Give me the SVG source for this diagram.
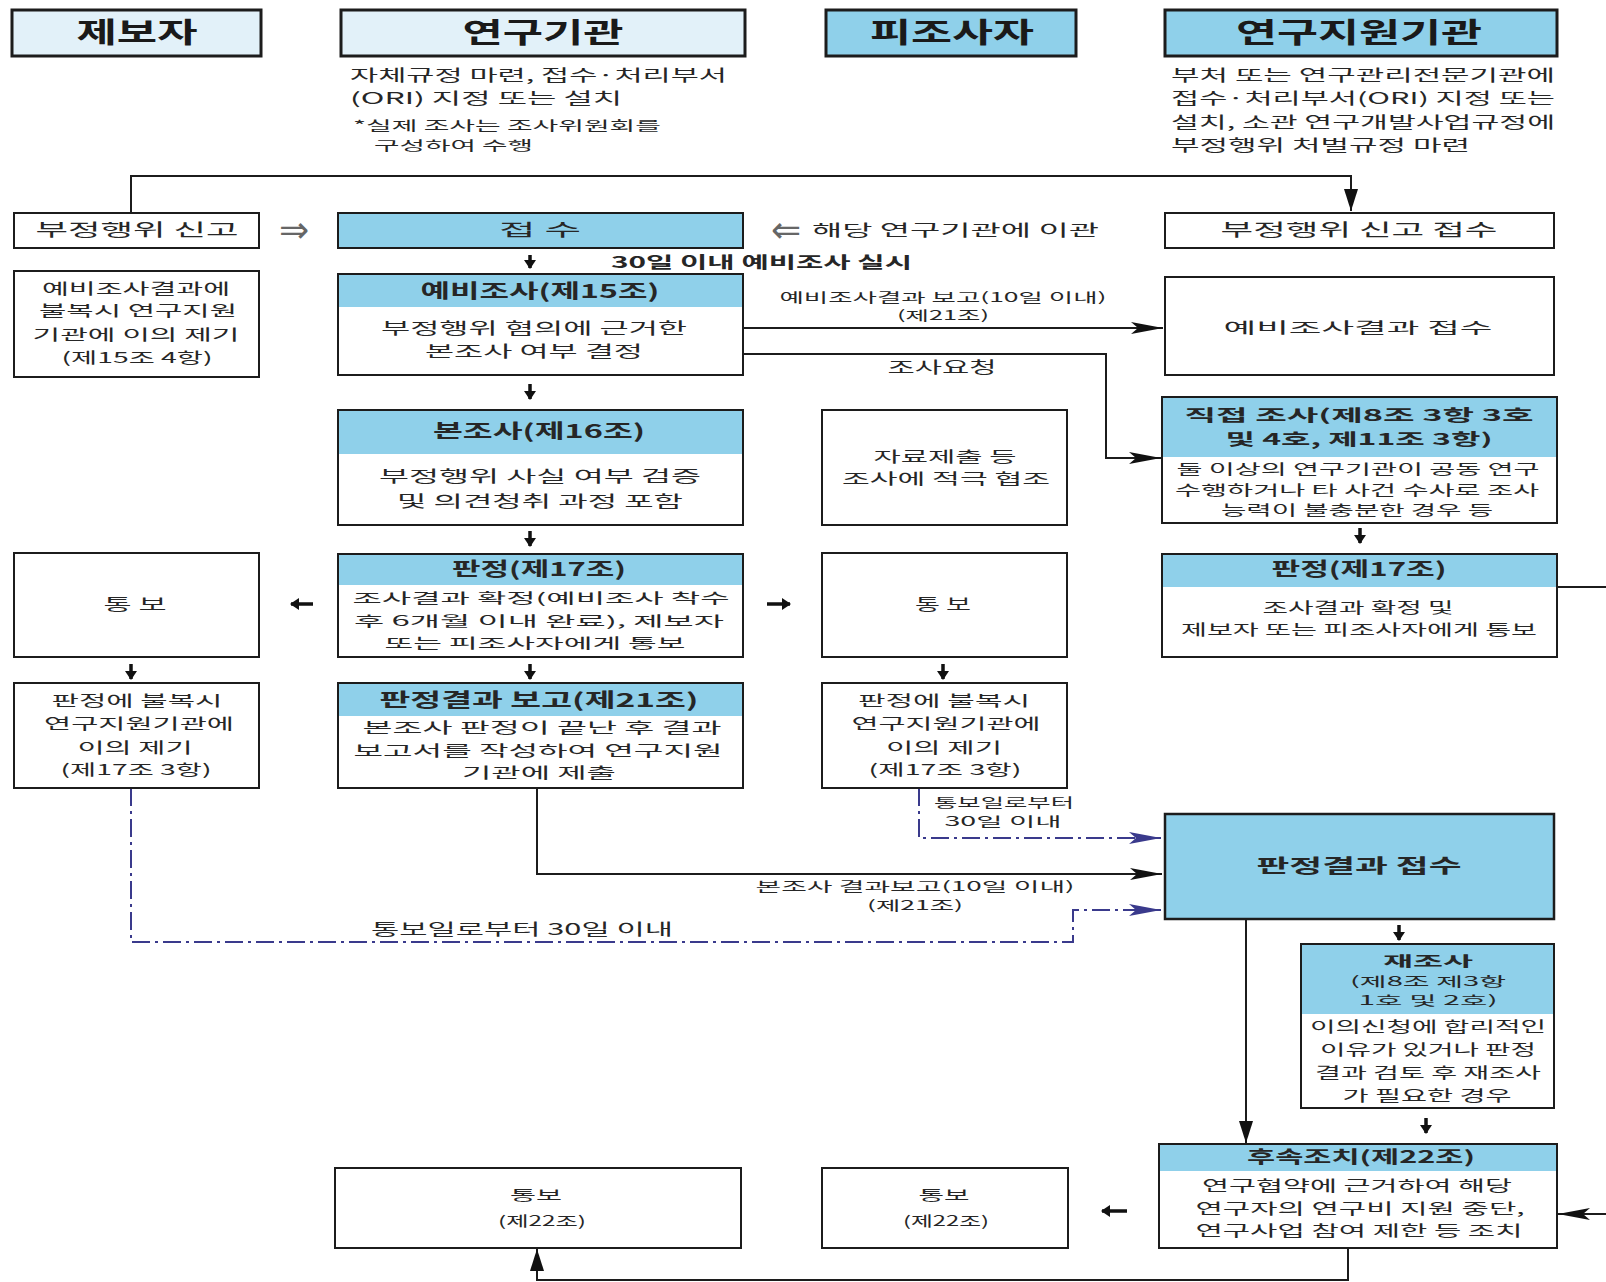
<svg xmlns="http://www.w3.org/2000/svg" width="1606" height="1282" viewBox="0 0 1606 1282">
<style>
.bg{fill:#ffffff}
.box{fill:#ffffff;stroke:#1c1c1c;stroke-width:2}
.ol{fill:none;stroke:#1c1c1c;stroke-width:2}
.band{fill:#8fd0ea}
.hdrP{fill:#e2f1f9;stroke:#1c1c1c;stroke-width:3}
.hdrB{fill:#8fd0ea;stroke:#1c1c1c;stroke-width:3}
.t{font-family:"Noto Sans CJK KR","Liberation Sans",sans-serif;font-size:15px;fill:#262626;text-anchor:middle}
.s{text-anchor:start}
.h{font-size:28px;font-weight:700;fill:#1a1a1a}
.b{font-size:19px;font-weight:700;fill:#262626}
.f13{font-size:13px}
.f14{font-size:14px}
.f16{font-size:16px}
.f17{font-size:17px}
.lb{font-weight:700}
.sym{font-family:"DejaVu Sans",sans-serif;font-size:36px;fill:#666;text-anchor:middle}
.ln{fill:none;stroke:#1c1c1c;stroke-width:2}
.dl{fill:none;stroke:#3a3a8c;stroke-width:2;stroke-dasharray:18 5 3 5}
.sa{fill:none;stroke:#111;stroke-width:3.5}
</style>
<defs>
<marker id="ah" markerUnits="userSpaceOnUse" markerWidth="34" markerHeight="14" refX="32" refY="7" orient="auto">
<path d="M0,1 L32,7 L0,13 L7,7 Z" fill="#111"/>
</marker>
<marker id="ahb" markerUnits="userSpaceOnUse" markerWidth="34" markerHeight="14" refX="32" refY="7" orient="auto">
<path d="M0,1 L32,7 L0,13 L7,7 Z" fill="#3a3a8c"/>
</marker>
<marker id="ahs" markerUnits="userSpaceOnUse" markerWidth="24" markerHeight="16" refX="22" refY="8" orient="auto">
<path d="M0,1 L22,8 L0,15 Z" fill="#111"/>
</marker>
<marker id="sh" markerUnits="userSpaceOnUse" markerWidth="10" markerHeight="12" refX="8" refY="6" orient="auto">
<path d="M0,0 L9,6 L0,12 Z" fill="#111"/>
</marker>
</defs>
<rect class="bg" x="0" y="0" width="1606" height="1282"/>

<g id="header-jebo">
<rect class="hdrP" x="12" y="10" width="249" height="46"/>
<text class="t h" x="137" y="43" textLength="121" lengthAdjust="spacingAndGlyphs">제보자</text>
</g>
<g id="header-yeongu">
<rect class="hdrP" x="341" y="10" width="404" height="46"/>
<text class="t h" x="543" y="43" textLength="161" lengthAdjust="spacingAndGlyphs">연구기관</text>
<text class="t s f16" x="350" y="81" textLength="377" lengthAdjust="spacingAndGlyphs">자체규정 마련, 접수·처리부서</text>
<text class="t s f16" x="350" y="104" textLength="272" lengthAdjust="spacingAndGlyphs">(ORI) 지정 또는 설치</text>
<text class="t s f13" x="353" y="130" textLength="308" lengthAdjust="spacingAndGlyphs">*실제 조사는 조사위원회를</text>
<text class="t s f13" x="374" y="150" textLength="159" lengthAdjust="spacingAndGlyphs">구성하여 수행</text>
</g>
<g id="header-pijosa">
<rect class="hdrB" x="826" y="10" width="250" height="46"/>
<text class="t h" x="952" y="43" textLength="164" lengthAdjust="spacingAndGlyphs">피조사자</text>
</g>
<g id="header-jiwon">
<rect class="hdrB" x="1165" y="10" width="392" height="46"/>
<text class="t h" x="1359" y="43" textLength="246" lengthAdjust="spacingAndGlyphs">연구지원기관</text>
<text class="t s f16" x="1171" y="81" textLength="384" lengthAdjust="spacingAndGlyphs">부처 또는 연구관리전문기관에</text>
<text class="t s f16" x="1171" y="104" textLength="384" lengthAdjust="spacingAndGlyphs">접수·처리부서(ORI) 지정 또는</text>
<text class="t s f16" x="1171" y="128" textLength="384" lengthAdjust="spacingAndGlyphs">설치, 소관 연구개발사업규정에</text>
<text class="t s f16" x="1171" y="151" textLength="299" lengthAdjust="spacingAndGlyphs">부정행위 처벌규정 마련</text>
</g>

<g id="connectors">
<polyline class="ln" points="131,213 131,176 1351,176 1351,211" marker-end="url(#ahs)"/>
<line class="ln" x1="743" y1="328" x2="1163" y2="328" marker-end="url(#ah)"/>
<polyline class="ln" points="743,354 1106,354 1106,458 1161,458" marker-end="url(#ah)"/>
<line class="ln" x1="1557" y1="587" x2="1606" y2="587"/>
<line class="ln" x1="1606" y1="1214" x2="1558" y2="1214" marker-end="url(#ah)"/>
<polyline class="dl" points="919,788 919,838 1161,838" marker-end="url(#ahb)"/>
<polyline class="ln" points="537,788 537,874 1162,874" marker-end="url(#ah)"/>
<polyline class="dl" points="131,788 131,942 1073,942 1073,910 1161,910" marker-end="url(#ahb)"/>
<line class="ln" x1="1246" y1="919" x2="1246" y2="1143" marker-end="url(#ahs)"/>
<polyline class="ln" points="1348,1248 1348,1280 537,1280 537,1249" marker-end="url(#ahs)"/>
<line class="sa" x1="530" y1="255" x2="530" y2="268" marker-end="url(#sh)"/>
<line class="sa" x1="530" y1="384" x2="530" y2="399" marker-end="url(#sh)"/>
<line class="sa" x1="530" y1="531" x2="530" y2="546" marker-end="url(#sh)"/>
<line class="sa" x1="1360" y1="528" x2="1360" y2="543" marker-end="url(#sh)"/>
<line class="sa" x1="131" y1="664" x2="131" y2="679" marker-end="url(#sh)"/>
<line class="sa" x1="530" y1="664" x2="530" y2="679" marker-end="url(#sh)"/>
<line class="sa" x1="943" y1="664" x2="943" y2="679" marker-end="url(#sh)"/>
<line class="sa" x1="1399" y1="925" x2="1399" y2="940" marker-end="url(#sh)"/>
<line class="sa" x1="1426" y1="1118" x2="1426" y2="1133" marker-end="url(#sh)"/>
<line class="sa" x1="313" y1="604" x2="291" y2="604" marker-end="url(#sh)"/>
<line class="sa" x1="767" y1="604" x2="790" y2="604" marker-end="url(#sh)"/>
<line class="sa" x1="1127" y1="1211" x2="1102" y2="1211" marker-end="url(#sh)"/>
<text class="sym" x="294" y="242">⇒</text>
<text class="sym" x="786" y="242">⇐</text>
<text class="t s f16" x="812" y="236" textLength="287" lengthAdjust="spacingAndGlyphs">해당 연구기관에 이관</text>
<text class="t s f16 lb" x="611" y="268" textLength="301" lengthAdjust="spacingAndGlyphs">30일 이내 예비조사 실시</text>
<text class="t f13" x="943" y="302" textLength="327" lengthAdjust="spacingAndGlyphs">예비조사결과 보고(10일 이내)</text>
<text class="t f13" x="943" y="320" textLength="92" lengthAdjust="spacingAndGlyphs">(제21조)</text>
<text class="t f16" x="942" y="373" textLength="109" lengthAdjust="spacingAndGlyphs">조사요청</text>
<text class="t f13" x="1004" y="807" textLength="140" lengthAdjust="spacingAndGlyphs">통보일로부터</text>
<text class="t f13" x="1003" y="826" textLength="117" lengthAdjust="spacingAndGlyphs">30일 이내</text>
<text class="t f13" x="915" y="891" textLength="319" lengthAdjust="spacingAndGlyphs">본조사 결과보고(10일 이내)</text>
<text class="t f13" x="915" y="910" textLength="96" lengthAdjust="spacingAndGlyphs">(제21조)</text>
<text class="t f16" x="522" y="935" textLength="302" lengthAdjust="spacingAndGlyphs">통보일로부터 30일 이내</text>
</g>

<g id="node-singo">
<rect class="box" x="14" y="213" width="245" height="35"/>
<text class="t f17" x="137" y="236" textLength="203" lengthAdjust="spacingAndGlyphs">부정행위 신고</text>
</g>
<g id="node-jeopsu">
<rect class="hdrB" style="stroke-width:2" x="338" y="213" width="405" height="35"/>
<text class="t f17" x="540" y="236" textLength="82" lengthAdjust="spacingAndGlyphs">접 수</text>
</g>
<g id="node-singo-jeopsu">
<rect class="box" x="1165" y="213" width="389" height="35"/>
<text class="t f17" x="1359" y="236" textLength="277" lengthAdjust="spacingAndGlyphs">부정행위 신고 접수</text>
</g>

<g id="node-ieui1">
<rect class="box" x="14" y="271" width="245" height="106"/>
<text class="t" x="136" y="294" textLength="188" lengthAdjust="spacingAndGlyphs">예비조사결과에</text>
<text class="t" x="138" y="316" textLength="198" lengthAdjust="spacingAndGlyphs">불복시 연구지원</text>
<text class="t" x="136" y="340" textLength="207" lengthAdjust="spacingAndGlyphs">기관에 이의 제기</text>
<text class="t" x="137" y="363" textLength="151" lengthAdjust="spacingAndGlyphs">(제15조 4항)</text>
</g>
<g id="node-yebi">
<rect class="box" x="338" y="274" width="405" height="101"/>
<rect class="band" x="339" y="275" width="403" height="32"/>
<rect class="ol" x="338" y="274" width="405" height="101"/>
<text class="t b" x="540" y="298" textLength="239" lengthAdjust="spacingAndGlyphs">예비조사(제15조)</text>
<text class="t f16" x="534" y="334" textLength="306" lengthAdjust="spacingAndGlyphs">부정행위 혐의에 근거한</text>
<text class="t f16" x="534" y="357" textLength="218" lengthAdjust="spacingAndGlyphs">본조사 여부 결정</text>
</g>
<g id="node-yebi-jeopsu">
<rect class="box" x="1165" y="277" width="389" height="98"/>
<text class="t" x="1358" y="333" font-size="19" textLength="269" lengthAdjust="spacingAndGlyphs">예비조사결과 접수</text>
</g>

<g id="node-bonjosa">
<rect class="box" x="338" y="410" width="405" height="115"/>
<rect class="band" x="339" y="411" width="403" height="43"/>
<rect class="ol" x="338" y="410" width="405" height="115"/>
<text class="t b" x="539" y="438" textLength="212" lengthAdjust="spacingAndGlyphs">본조사(제16조)</text>
<text class="t f16" x="540" y="482" textLength="322" lengthAdjust="spacingAndGlyphs">부정행위 사실 여부 검증</text>
<text class="t f16" x="540" y="507" textLength="286" lengthAdjust="spacingAndGlyphs">및 의견청취 과정 포함</text>
</g>
<g id="node-jaryo">
<rect class="box" x="822" y="410" width="245" height="115"/>
<text class="t" x="945" y="462" textLength="143" lengthAdjust="spacingAndGlyphs">자료제출 등</text>
<text class="t" x="946" y="484" textLength="208" lengthAdjust="spacingAndGlyphs">조사에 적극 협조</text>
</g>
<g id="node-jikjeop">
<rect class="box" x="1162" y="397" width="395" height="126"/>
<rect class="band" x="1163" y="398" width="393" height="59"/>
<rect class="ol" x="1162" y="397" width="395" height="126"/>
<text class="t b f16" x="1359" y="421" textLength="349" lengthAdjust="spacingAndGlyphs">직접 조사(제8조 3항 3호</text>
<text class="t b f16" x="1359" y="445" textLength="267" lengthAdjust="spacingAndGlyphs">및 4호, 제11조 3항)</text>
<text class="t f14" x="1358" y="474" textLength="363" lengthAdjust="spacingAndGlyphs">둘 이상의 연구기관이 공동 연구</text>
<text class="t f14" x="1357" y="495" textLength="364" lengthAdjust="spacingAndGlyphs">수행하거나 타 사건 수사로 조사</text>
<text class="t f14" x="1357" y="515" textLength="272" lengthAdjust="spacingAndGlyphs">능력이 불충분한 경우 등</text>
</g>

<g id="node-tongbo-l">
<rect class="box" x="14" y="553" width="245" height="104"/>
<text class="t f16" x="135" y="610" textLength="63" lengthAdjust="spacingAndGlyphs">통 보</text>
</g>
<g id="node-panjeong">
<rect class="box" x="338" y="554" width="405" height="103"/>
<rect class="band" x="339" y="555" width="403" height="30"/>
<rect class="ol" x="338" y="554" width="405" height="103"/>
<text class="t b" x="539" y="576" textLength="174" lengthAdjust="spacingAndGlyphs">판정(제17조)</text>
<text class="t f14" x="541" y="603" textLength="377" lengthAdjust="spacingAndGlyphs">조사결과 확정(예비조사 착수</text>
<text class="t f14" x="539" y="626" textLength="370" lengthAdjust="spacingAndGlyphs">후 6개월 이내 완료), 제보자</text>
<text class="t f14" x="535" y="648" textLength="301" lengthAdjust="spacingAndGlyphs">또는 피조사자에게 통보</text>
</g>
<g id="node-tongbo-m">
<rect class="box" x="822" y="553" width="245" height="104"/>
<text class="t f16" x="943" y="610" textLength="56" lengthAdjust="spacingAndGlyphs">통 보</text>
</g>
<g id="node-panjeong-r">
<rect class="box" x="1162" y="554" width="395" height="103"/>
<rect class="band" x="1163" y="555" width="393" height="32"/>
<rect class="ol" x="1162" y="554" width="395" height="103"/>
<text class="t b" x="1359" y="576" textLength="175" lengthAdjust="spacingAndGlyphs">판정(제17조)</text>
<text class="t" x="1358" y="613" textLength="191" lengthAdjust="spacingAndGlyphs">조사결과 확정 및</text>
<text class="t" x="1359" y="635" textLength="356" lengthAdjust="spacingAndGlyphs">제보자 또는 피조사자에게 통보</text>
</g>

<g id="node-ieui-l">
<rect class="box" x="14" y="683" width="245" height="105"/>
<text class="t" x="137" y="706" textLength="171" lengthAdjust="spacingAndGlyphs">판정에 불복시</text>
<text class="t" x="139" y="729" textLength="190" lengthAdjust="spacingAndGlyphs">연구지원기관에</text>
<text class="t" x="135" y="753" textLength="115" lengthAdjust="spacingAndGlyphs">이의 제기</text>
<text class="t" x="136" y="775" textLength="151" lengthAdjust="spacingAndGlyphs">(제17조 3항)</text>
</g>
<g id="node-panjeong-bogo">
<rect class="box" x="338" y="683" width="405" height="105"/>
<rect class="band" x="339" y="684" width="403" height="32"/>
<rect class="ol" x="338" y="683" width="405" height="105"/>
<text class="t b" x="539" y="707" textLength="319" lengthAdjust="spacingAndGlyphs">판정결과 보고(제21조)</text>
<text class="t" x="542" y="733" textLength="359" lengthAdjust="spacingAndGlyphs">본조사 판정이 끝난 후 결과</text>
<text class="t" x="538" y="756" textLength="369" lengthAdjust="spacingAndGlyphs">보고서를 작성하여 연구지원</text>
<text class="t" x="539" y="778" textLength="154" lengthAdjust="spacingAndGlyphs">기관에 제출</text>
</g>
<g id="node-ieui-m">
<rect class="box" x="822" y="683" width="245" height="105"/>
<text class="t" x="944" y="706" textLength="172" lengthAdjust="spacingAndGlyphs">판정에 불복시</text>
<text class="t" x="946" y="729" textLength="189" lengthAdjust="spacingAndGlyphs">연구지원기관에</text>
<text class="t" x="944" y="753" textLength="116" lengthAdjust="spacingAndGlyphs">이의 제기</text>
<text class="t" x="945" y="775" textLength="153" lengthAdjust="spacingAndGlyphs">(제17조 3항)</text>
</g>

<g id="node-panjeong-jeopsu">
<rect class="hdrB" style="stroke-width:2.5" x="1165" y="814" width="389" height="105"/>
<text class="t b" x="1359" y="873" font-size="22" textLength="205" lengthAdjust="spacingAndGlyphs">판정결과 접수</text>
</g>
<g id="node-jaejosa">
<rect class="box" x="1301" y="944" width="253" height="164"/>
<rect class="band" x="1302" y="945" width="251" height="69"/>
<rect class="ol" x="1301" y="944" width="253" height="164"/>
<text class="t b f14" x="1428" y="966" textLength="90" lengthAdjust="spacingAndGlyphs">재조사</text>
<text class="t f13" x="1428" y="986" textLength="156" lengthAdjust="spacingAndGlyphs">(제8조 제3항</text>
<text class="t f13" x="1428" y="1005" textLength="139" lengthAdjust="spacingAndGlyphs">1호 및 2호)</text>
<text class="t" x="1428" y="1032" textLength="236" lengthAdjust="spacingAndGlyphs">이의신청에 합리적인</text>
<text class="t" x="1428" y="1055" textLength="216" lengthAdjust="spacingAndGlyphs">이유가 있거나 판정</text>
<text class="t" x="1428" y="1078" textLength="226" lengthAdjust="spacingAndGlyphs">결과 검토 후 재조사</text>
<text class="t" x="1427" y="1101" textLength="169" lengthAdjust="spacingAndGlyphs">가 필요한 경우</text>
</g>

<g id="node-husok">
<rect class="box" x="1159" y="1144" width="398" height="104"/>
<rect class="band" x="1160" y="1145" width="396" height="26"/>
<rect class="ol" x="1159" y="1144" width="398" height="104"/>
<text class="t b f17" x="1361" y="1163" textLength="228" lengthAdjust="spacingAndGlyphs">후속조치(제22조)</text>
<text class="t" x="1357" y="1191" textLength="310" lengthAdjust="spacingAndGlyphs">연구협약에 근거하여 해당</text>
<text class="t" x="1360" y="1214" textLength="329" lengthAdjust="spacingAndGlyphs">연구자의 연구비 지원 중단,</text>
<text class="t" x="1359" y="1236" textLength="327" lengthAdjust="spacingAndGlyphs">연구사업 참여 제한 등 조치</text>
</g>
<g id="node-tongbo22-m">
<rect class="box" x="822" y="1168" width="246" height="80"/>
<text class="t f14" x="944" y="1200" textLength="51" lengthAdjust="spacingAndGlyphs">통보</text>
<text class="t f14" x="946" y="1226" textLength="86" lengthAdjust="spacingAndGlyphs">(제22조)</text>
</g>
<g id="node-tongbo22-l">
<rect class="box" x="335" y="1168" width="406" height="80"/>
<text class="t f14" x="536" y="1200" textLength="52" lengthAdjust="spacingAndGlyphs">통보</text>
<text class="t f14" x="542" y="1226" textLength="88" lengthAdjust="spacingAndGlyphs">(제22조)</text>
</g>
</svg>
